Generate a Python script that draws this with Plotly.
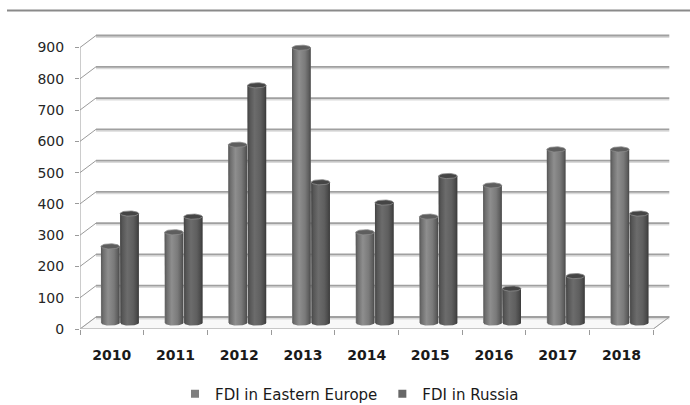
import numpy as np
import plotly.graph_objects as go

# ---- data -------------------------------------------------------------
years = ["2010", "2011", "2012", "2013", "2014", "2015", "2016", "2017", "2018"]
fdi_eastern_europe = [245, 290, 570, 880, 290, 340, 440, 555, 555]
fdi_russia = [350, 340, 760, 450, 385, 470, 110, 150, 350]
y_ticks = [0, 100, 200, 300, 400, 500, 600, 700, 800, 900]
series_names = ["FDI in Eastern Europe", "FDI in Russia"]

# ---- pseudo-3D geometry (axis units) ---------------------------------
PX_X = 63.7            # pixels per category
PX_Y = 281.5 / 900     # pixels per value unit
DX_BACK = 16 / PX_X    # depth offset of the back wall
DY_BACK = 12 / PX_Y
DX_MID = DX_BACK / 2   # cylinders stand half way in depth
DY_MID = DY_BACK / 2
HALF_W = 9.3 / PX_X    # cylinder radius (x)
CAP_H = 2.6 / PX_Y     # cylinder cap radius (y)
PAIR_OFF = 9.6 / PX_X
n = len(years)

styles = [
    dict(
        base="#7d7d7d",
        cap="#5e5e5e",
        legend="#7f7f7f",
        grad=[[0, "#555555"], [0.12, "#6e6e6e"], [0.38, "#8e8e8e"],
              [0.7, "#7a7a7a"], [0.9, "#5e5e5e"], [1, "#484848"]],
    ),
    dict(
        base="#606060",
        cap="#454545",
        legend="#676767",
        grad=[[0, "#434343"], [0.12, "#565656"], [0.38, "#6c6c6c"],
              [0.7, "#5f5f5f"], [0.9, "#4a4a4a"], [1, "#393939"]],
    ),
]

fig = go.Figure()
shapes = []

# floor
shapes.append(dict(
    type="path", xref="x", yref="y", layer="below",
    path=(f"M 0,0 L {n},0 L {n + DX_BACK},{DY_BACK} L {DX_BACK},{DY_BACK} Z"),
    fillcolor="#f8f8f8", line=dict(color="#d6d6d6", width=1),
))

# back-wall gridlines with a soft shadow, plus side-wall diagonals
for v in y_ticks:
    yb = v + DY_BACK
    shapes.append(dict(type="line", xref="x", yref="y", layer="below",
                       x0=DX_BACK, x1=n + DX_BACK, y0=yb - 1.6 / PX_Y, y1=yb - 1.6 / PX_Y,
                       line=dict(color="#dadada", width=1.6)))
    shapes.append(dict(type="line", xref="x", yref="y", layer="below",
                       x0=DX_BACK, x1=n + DX_BACK, y0=yb, y1=yb,
                       line=dict(color="#a0a0a0", width=1.8)))
    shapes.append(dict(type="line", xref="x", yref="y", layer="below",
                       x0=0, x1=DX_BACK, y0=v, y1=yb,
                       line=dict(color="#9a9a9a", width=1)))

# front vertical axis line, front floor edge and right floor diagonal
shapes.append(dict(type="line", xref="x", yref="y", layer="below",
                   x0=0, x1=0, y0=0, y1=y_ticks[-1],
                   line=dict(color="#9a9a9a", width=1)))
shapes.append(dict(type="line", xref="x", yref="y", layer="below",
                   x0=0, x1=n, y0=0, y1=0,
                   line=dict(color="#bdbdbd", width=1.5)))
shapes.append(dict(type="line", xref="x", yref="y", layer="below",
                   x0=n, x1=n + DX_BACK, y0=0, y1=DY_BACK,
                   line=dict(color="#9a9a9a", width=1)))

# chart-area top border
shapes.append(dict(type="line", xref="paper", yref="paper",
                   x0=(7 - 80) / 590, x1=(690 - 80) / 590,
                   y0=(329 - 10.5) / 309, y1=(329 - 10.5) / 309,
                   line=dict(color="#8a8a8a", width=2)))

theta = np.linspace(0, np.pi, 25)

for s, (name, values, st) in enumerate(zip(series_names, [fdi_eastern_europe, fdi_russia], styles)):
    sign = -1 if s == 0 else 1
    centers = [i + 0.5 + DX_MID + sign * PAIR_OFF for i in range(n)]

    # cylinder bodies
    fig.add_trace(go.Bar(
        x=centers, y=values, base=DY_MID, width=2 * HALF_W,
        marker=dict(color=st["base"], line=dict(width=0)),
        name=name, showlegend=False, hovertemplate="%{y}<extra>" + name + "</extra>",
    ))

    # shaded cylinder surface with a rounded bottom
    for cx, v in zip(centers, values):
        top = DY_MID + v
        bx = cx - HALF_W * np.cos(theta)
        by = DY_MID - CAP_H * np.sin(theta)
        xs = [cx - HALF_W] + list(bx) + [cx + HALF_W, cx - HALF_W]
        ys = [top] + list(by) + [top, top]
        fig.add_trace(go.Scatter(
            x=xs, y=ys, mode="lines", fill="toself", line=dict(width=0),
            fillgradient=dict(type="horizontal", colorscale=st["grad"]),
            showlegend=False, hoverinfo="skip",
        ))

    # cylinder caps
    cap_x, cap_y = [], []
    phi = np.linspace(0, 2 * np.pi, 41)
    for cx, v in zip(centers, values):
        cap_x += list(cx + HALF_W * np.cos(phi)) + [None]
        cap_y += list(DY_MID + v + CAP_H * np.sin(phi)) + [None]
    fig.add_trace(go.Scatter(
        x=cap_x, y=cap_y, mode="lines", fill="toself",
        fillcolor=st["cap"], line=dict(color="#8c8c8c", width=0.8),
        showlegend=False, hoverinfo="skip",
    ))

    # legend entry
    fig.add_trace(go.Scatter(
        x=[None], y=[None], mode="markers", name=name,
        marker=dict(symbol="square", size=8, color=st["legend"]),
    ))

fig.update_layout(
    width=690, height=405,
    margin=dict(l=80, r=20, t=20, b=76),
    paper_bgcolor="white", plot_bgcolor="white",
    barmode="overlay",
    shapes=shapes,
    font=dict(family="DejaVu Sans", color="#262626"),
    xaxis=dict(
        range=[0, 590 / PX_X], showgrid=False, zeroline=False, showline=False,
        tickmode="array", tickvals=[i + 0.5 for i in range(n)], ticktext=years,
        ticks="", tickfont=dict(size=14, family="DejaVu Sans", color="#1a1a1a", weight="bold"),
        ticklabelstandoff=16,
        minor=dict(tickmode="array", tickvals=list(range(n + 1)), ticks="outside",
                   ticklen=5, tickcolor="#9a9a9a", tickwidth=1, showgrid=False),
        fixedrange=True,
    ),
    yaxis=dict(
        range=[0, 309 / PX_Y], showgrid=False, zeroline=False, showline=False,
        tickmode="array", tickvals=y_ticks, ticks="outside", ticklen=4,
        tickcolor="#9a9a9a", tickfont=dict(size=14, family="DejaVu Sans", color="#262626"),
        ticklabelstandoff=8, fixedrange=True,
    ),
    legend=dict(
        orientation="h", xref="container", yref="container",
        x=175 / 690, y=(405 - 394) / 405, xanchor="left", yanchor="middle",
        font=dict(size=15, family="DejaVu Sans", color="#1a1a1a"),
        itemclick=False, itemdoubleclick=False,
    ),
)

fig.write_html("out.html")
